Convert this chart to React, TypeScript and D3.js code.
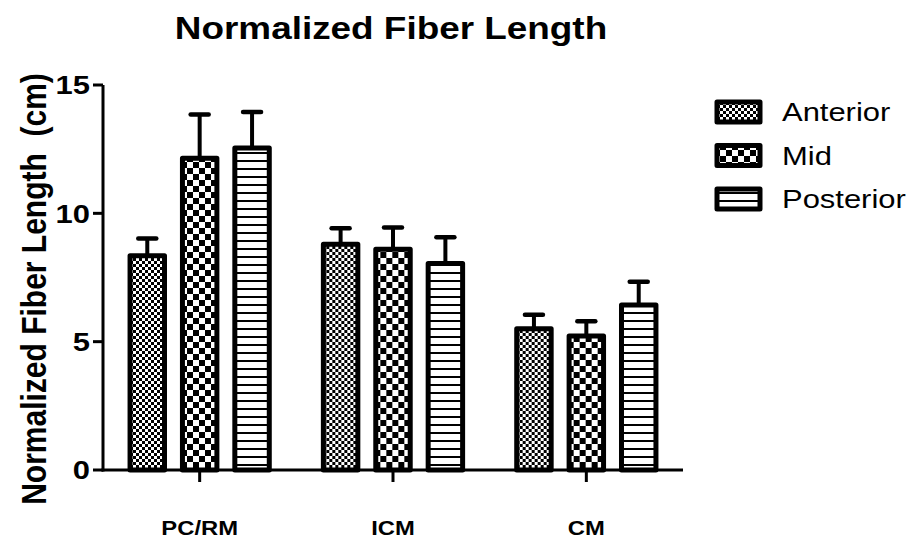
import React from "react";
import * as d3 from "d3";

const categories = ["PC/RM", "ICM", "CM"];
const series = ["Anterior", "Mid", "Posterior"];
const anteriorMeans = [8.35, 8.8, 5.5];
const midMeans = [12.15, 8.6, 5.22];
const posteriorMeans = [12.55, 8.05, 6.43];
const anteriorErr = [0.67, 0.62, 0.55];
const midErr = [1.7, 0.85, 0.58];
const posteriorErr = [1.4, 1.02, 0.9];
const yTicks = [0, 5, 10, 15];

const W = 915;
const H = 541;
const FONT = "'Liberation Sans', Arial, Helvetica, sans-serif";
const SX = 1.19;

function SText(props: {
  x: number;
  y: number;
  size: number;
  bold?: boolean;
  anchor?: string;
  rotate?: number;
  dy?: string;
  children: React.ReactNode;
}) {
  const { x, y, size, bold, anchor, rotate, dy, children } = props;
  return (
    <g transform={`translate(${x},${y}) scale(${SX},1)${rotate ? ` rotate(${rotate})` : ""}`}>
      <text
        x={0}
        y={0}
        dy={dy}
        textAnchor={anchor || "start"}
        fontSize={size}
        fontWeight={bold ? "bold" : "normal"}
        fill="#000"
        style={{ whiteSpace: "pre" }}
      >
        {children}
      </text>
    </g>
  );
}

export default function App() {
  const means = [anteriorMeans, midMeans, posteriorMeans];
  const errs = [anteriorErr, midErr, posteriorErr];
  const patterns = ["pat-ant", "pat-mid", "pat-post"];

  const y = d3.scaleLinear().domain([0, 15]).range([470, 85]);
  const x0 = d3.scaleBand<string>().domain(categories).range([103, 683]);
  const bw = x0.bandwidth();
  const x1 = d3
    .scaleBand<string>()
    .domain(series)
    .range([bw * 0.127, bw * 0.873])
    .paddingInner(0.247);
  const sw = 5;

  return (
    <svg
      width={W}
      height={H}
      style={{ position: "absolute", left: 0, top: 0, background: "#fff" }}
      fontFamily={FONT}
    >
      <defs>
        <pattern id="pat-ant" patternUnits="userSpaceOnUse" width={6} height={6}>
          <rect width={6} height={6} fill="#fff" />
          <rect x={0} y={0} width={3} height={3} fill="#000" />
          <rect x={3} y={3} width={3} height={3} fill="#000" />
        </pattern>
        <pattern id="pat-mid" patternUnits="userSpaceOnUse" width={12} height={12}>
          <rect width={12} height={12} fill="#fff" />
          <rect x={0} y={0} width={6} height={6} fill="#000" />
          <rect x={6} y={6} width={6} height={6} fill="#000" />
        </pattern>
        <pattern id="pat-post" patternUnits="userSpaceOnUse" width={8} height={8}>
          <rect width={8} height={8} fill="#fff" />
          <rect x={0} y={0} width={8} height={2} fill="#000" />
        </pattern>
      </defs>

      {/* Title */}
      <SText x={391} y={39} size={31} bold anchor="middle">
        Normalized Fiber Length
      </SText>

      {/* Y axis title */}
      <SText x={46} y={289} size={30} bold anchor="middle" rotate={-90}>
        {"Normalized Fiber Length  (cm)"}
      </SText>

      {/* Bars */}
      {categories.map((c, ci) => (
        <g key={c} transform={`translate(${x0(c)},0)`}>
          {series.map((s, si) => {
            const v = means[si][ci];
            const e = errs[si][ci];
            const bx = x1(s)!;
            const cx = bx + x1.bandwidth() / 2;
            return (
              <g key={s}>
                <line
                  x1={cx}
                  x2={cx}
                  y1={y(v)}
                  y2={y(v + e)}
                  stroke="#000"
                  strokeWidth={4}
                />
                <line
                  x1={cx - 9}
                  x2={cx + 9}
                  y1={y(v + e)}
                  y2={y(v + e)}
                  stroke="#000"
                  strokeWidth={4.5}
                  strokeLinecap="round"
                />
                <rect
                  x={bx + sw / 2}
                  y={y(v)}
                  width={x1.bandwidth() - sw}
                  height={y(0) - y(v)}
                  fill={`url(#${patterns[si]})`}
                  stroke="#000"
                  strokeWidth={sw}
                  strokeLinejoin="round"
                />
              </g>
            );
          })}
        </g>
      ))}

      {/* Y axis */}
      <line x1={103} x2={103} y1={y(15)} y2={y(0) + 1.5} stroke="#000" strokeWidth={3} />
      {yTicks.map((t) => (
        <g key={t}>
          <line x1={93} x2={103} y1={y(t)} y2={y(t)} stroke="#000" strokeWidth={3} />
          <SText x={90} y={y(t)} dy="0.36em" size={26} bold anchor="end">
            {String(t)}
          </SText>
        </g>
      ))}

      {/* X axis */}
      <line x1={101.5} x2={683} y1={y(0)} y2={y(0)} stroke="#000" strokeWidth={3} />
      {categories.map((c) => {
        const cx = x0(c)! + bw / 2;
        return (
          <g key={c}>
            <line x1={cx} x2={cx} y1={y(0)} y2={y(0) + 12} stroke="#000" strokeWidth={3} />
            <SText x={cx} y={535} size={20} bold anchor="middle">
              {c}
            </SText>
          </g>
        );
      })}

      {/* Legend */}
      {series.map((s, si) => {
        const cy = 112 + si * 43.5;
        return (
          <g key={s}>
            <rect
              x={717}
              y={cy - 10}
              width={43}
              height={20}
              fill={`url(#${patterns[si]})`}
              stroke="#000"
              strokeWidth={5}
              strokeLinejoin="round"
            />
            <SText x={782} y={cy} dy="0.36em" size={26}>
              {s}
            </SText>
          </g>
        );
      })}
    </svg>
  );
}
